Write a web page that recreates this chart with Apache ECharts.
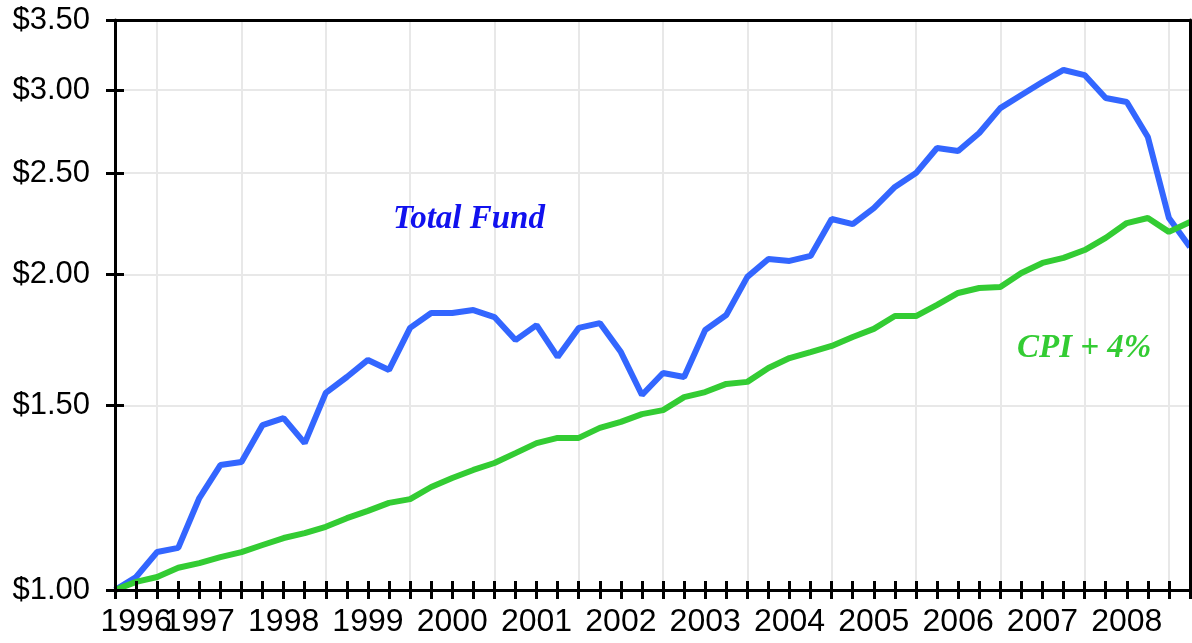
<!DOCTYPE html>
<html>
<head>
<meta charset="utf-8">
<title>Total Fund vs CPI + 4%</title>
<script src="https://cdn.jsdelivr.net/npm/echarts@6/dist/echarts.min.js"></script>
<style>
  html, body { margin: 0; padding: 0; background: #fff; }
  #main { width: 1192px; height: 643px; }
</style>
</head>
<body>
<div id="main"></div>
<script>
// quarter ends, mid 1996 to Q1 2009
var quarters = [
  '1996-06','1996-09','1996-12',
  '1997-03','1997-06','1997-09','1997-12',
  '1998-03','1998-06','1998-09','1998-12',
  '1999-03','1999-06','1999-09','1999-12',
  '2000-03','2000-06','2000-09','2000-12',
  '2001-03','2001-06','2001-09','2001-12',
  '2002-03','2002-06','2002-09','2002-12',
  '2003-03','2003-06','2003-09','2003-12',
  '2004-03','2004-06','2004-09','2004-12',
  '2005-03','2005-06','2005-09','2005-12',
  '2006-03','2006-06','2006-09','2006-12',
  '2007-03','2007-06','2007-09','2007-12',
  '2008-03','2008-06','2008-09','2008-12',
  '2009-03'
];

// growth of $1
var totalFund = [
  1.000, 1.029, 1.087, 1.097, 1.224, 1.316, 1.325, 1.437, 1.459, 1.381,
  1.542, 1.597, 1.658, 1.622, 1.779, 1.838, 1.838, 1.850, 1.822, 1.732,
  1.790, 1.669, 1.779, 1.798, 1.687, 1.535, 1.611, 1.597, 1.771, 1.830,
  1.990, 2.070, 2.061, 2.084, 2.260, 2.235, 2.315, 2.425, 2.500, 2.642,
  2.624, 2.730, 2.884, 2.968, 3.054, 3.136, 3.101, 2.949, 2.923, 2.706,
  2.265, 2.125
];

var cpiPlus4 = [
  1.000, 1.018, 1.029, 1.050, 1.061, 1.075, 1.087, 1.104, 1.121, 1.133,
  1.149, 1.171, 1.190, 1.211, 1.221, 1.254, 1.279, 1.302, 1.322, 1.351,
  1.381, 1.397, 1.397, 1.428, 1.447, 1.472, 1.485, 1.528, 1.545, 1.573,
  1.580, 1.629, 1.665, 1.687, 1.710, 1.744, 1.775, 1.826, 1.826, 1.871,
  1.921, 1.942, 1.946, 2.007, 2.052, 2.075, 2.111, 2.168, 2.240, 2.265,
  2.197, 2.245
];

var yTicks = [1.00, 1.50, 2.00, 2.50, 3.00, 3.50];

// log scale done by hand: plot ln(value)
var yTickLn = yTicks.map(function(v){ return Math.log(v); });
var lnMin = Math.log(yTicks[0]);
var lnMax = Math.log(yTicks[yTicks.length - 1]);

var fontFamily = '"Liberation Sans", Arial, sans-serif';
var annoFont = 'italic bold 33px "Liberation Serif", "Times New Roman", serif';
var black = { color: '#000', width: 3 };

function yearLabel(val){ return val.slice(0, 4); }

// build a bare x axis, then switch on the parts needed
function xAx(opts){
  return echarts.util.merge({
    type: 'category',
    data: quarters,
    boundaryGap: false,
    position: 'bottom',
    z: 5,
    axisLine: { show: false, onZero: false, lineStyle: black },
    axisTick: { show: false, interval: 0, length: 9, lineStyle: black },
    axisLabel: { show: false, hideOverlap: false, margin: 16, fontFamily: fontFamily, fontSize: 32, color: '#000', formatter: yearLabel },
    splitLine: { show: false }
  }, opts, true);
}
function yAx(opts){
  return echarts.util.merge({
    type: 'value',
    position: 'left',
    min: lnMin,
    max: lnMax,
    z: 5,
    axisLine: { show: false, onZero: false, lineStyle: black },
    axisTick: { show: false, length: 9, customValues: yTickLn, lineStyle: black },
    axisLabel: {
      show: false,
      customValues: yTickLn,
      formatter: function(v){ return '$' + Math.exp(v).toFixed(2); },
      margin: 25, fontFamily: fontFamily, fontSize: 31, color: '#000'
    },
    splitLine: { show: false }
  }, opts, true);
}

var myChart = echarts.init(document.getElementById('main'));
var option = {
  animation: false,
  backgroundColor: '#fff',
  grid: { left: 115, right: 2, top: 20, bottom: 53, show: false },
  xAxis: [
    // 0: axis line, outer ticks, year labels
    xAx({
      axisLine: { show: true },
      axisTick: { show: true, inside: false },
      axisLabel: { show: true, interval: function(index){ return index > 0 && index % 4 === 0; } }
    }),
    // 1: inner half of crossing ticks
    xAx({ axisTick: { show: true, inside: true } }),
    // 2: top frame
    xAx({ position: 'top', axisLine: { show: true } }),
    // 3: year grid lines, under the series
    xAx({ z: 0, splitLine: { show: true, interval: function(index){ return index % 4 === 2; }, lineStyle: { color: '#e8e8e8', width: 2 } } }),
    // 4: first partial year label
    xAx({ axisLabel: { show: true, interval: function(index){ return index === 1; } } })
  ],
  yAxis: [
    yAx({
      axisLine: { show: true },
      axisTick: { show: true, inside: false },
      axisLabel: { show: true }
    }),
    yAx({ axisTick: { show: true, inside: true } }),
    yAx({ position: 'right', axisLine: { show: true } }),
    yAx({ z: 0, splitLine: { show: true, lineStyle: { color: '#e8e8e8', width: 2 } } })
  ],
  graphic: [{
    type: 'text',
    left: 393,
    top: 203,
    z: 10,
    style: { text: 'Total Fund', font: annoFont, fill: '#1111ee' }
  }, {
    type: 'text',
    left: 1017,
    top: 332,
    z: 10,
    style: { text: 'CPI + 4%', font: annoFont, fill: '#33cc33' }
  }],
  series: [{
    name: 'Total Fund',
    type: 'line',
    xAxisIndex: 0,
    yAxisIndex: 0,
    data: totalFund.map(function(v){ return Math.log(v); }),
    showSymbol: false,
    symbol: 'none',
    lineStyle: { color: '#3366ff', width: 6 },
    z: 3
  }, {
    name: 'CPI + 4%',
    type: 'line',
    xAxisIndex: 0,
    yAxisIndex: 0,
    data: cpiPlus4.map(function(v){ return Math.log(v); }),
    showSymbol: false,
    symbol: 'none',
    lineStyle: { color: '#33cc33', width: 6 },
    z: 4
  }]
};
myChart.setOption(option);
</script>
</body>
</html>
